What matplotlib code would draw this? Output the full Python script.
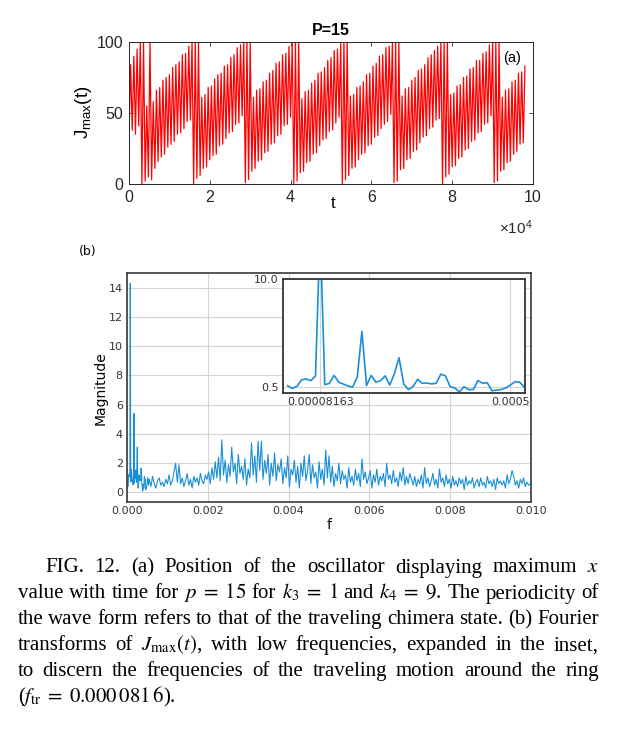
import numpy as np
import matplotlib

matplotlib.use("Agg")
import matplotlib.pyplot as plt

plt.rcParams["mathtext.fontset"] = "custom"
plt.rcParams["mathtext.rm"] = "Liberation Sans"
plt.rcParams["mathtext.it"] = "Liberation Sans:italic"

t_step = 400
j_max = [
    34, 84, 38, 90, 35, 95, 41, 100,
    0, 100, 2, 55, 5, 100, 3, 58,
    11, 66, 16, 68, 19, 73, 21, 75, 26, 77, 28, 82, 30, 84, 35, 86, 36, 91, 39, 92, 44, 97, 45, 100,
    0, 100, 4, 100,
    6, 61, 11, 63, 12, 68, 17, 69, 20, 74, 21, 77, 27, 78, 28, 83, 32, 84, 36, 89, 37, 91, 42, 96, 43, 98, 48, 100,
    1, 100, 3, 100,
    9, 61, 11, 66, 16, 67, 17, 72, 22, 73, 23, 78, 28, 80, 29, 85, 34, 86, 35, 91, 41, 92, 42, 97, 47, 99,
    0, 100, 2, 100,
    8, 60, 9, 65, 15, 66, 16, 71, 21, 73, 22, 78, 27, 79, 31, 82, 32, 87, 37, 89, 38, 94, 43, 95, 47, 99,
    0, 100, 3, 100,
    6, 62, 11, 63, 12, 68, 17, 69, 21, 72, 22, 77, 27, 78, 28, 83, 33, 85, 34, 90, 39, 91, 42, 96, 44, 97, 49,
    100, 1, 100, 2, 100,
    10, 62, 11, 67, 17, 68, 18, 73, 23, 75, 24, 80, 29, 81, 33, 84, 34, 89, 39, 91, 40, 94, 45, 97, 46,
    100, 0, 100, 5, 100,
    7, 63, 12, 64, 13, 69, 18, 70, 19, 75, 24, 76, 25, 81, 30, 82, 31, 87, 36, 87, 37, 92, 42, 93, 43, 98, 48,
    100, 1, 100, 2, 100,
    9, 61, 10, 66, 15, 67, 16, 72, 21, 73, 23, 78, 28, 79, 29, 83,
]

# (b) Spektrum: df = 1/98000, Inset k = 1..52, danach jeder 4. Bin ab k = 54
df = 1.0 / 98000
mag_low = [
    0.64, 0.40, 0.58, 1.15, 1.23, 1.08, 1.5, 14.3, 0.72, 0.85,
    1.55, 0.95, 0.78, 0.62, 0.52, 1.4, 5.4, 0.65, 1.55, 0.95,
    1.08, 1.5, 0.7, 1.7, 3.1, 0.8, 0.3, 0.55, 1.2, 0.85,
    0.88, 0.8, 0.85, 1.65, 1.5, 0.55, 0.45, 0.1, 0.55, 0.3,
    0.3, 1.1, 0.85, 0.9, 0.2, 0.25, 0.3, 0.45, 0.7, 1.0,
    0.95, 0.5,
]
mag_high = [
    0.9, 0.4, 1.1, 0.6, 0.3, 0.8, 1.0, 0.5, 0.7, 0.4, 0.9, 0.6, 1.2, 0.5, 0.8, 1.4, 2.0, 0.7,
    1.9, 0.6, 1.0, 0.4, 0.8, 1.3, 0.5, 0.9, 0.3, 1.1, 0.7, 1.0, 0.5, 1.3, 0.8, 0.6, 1.2, 0.9,
    1.4, 0.6, 1.7, 0.9, 2.1, 1.0, 2.4, 0.8, 3.6, 1.2, 2.2, 0.7, 1.9, 1.1, 3.1, 1.4, 2.0, 0.6,
    2.6, 1.3, 1.8, 0.9, 2.3, 0.5, 1.6, 1.0, 3.4, 1.2, 2.5, 0.7, 3.5, 1.5, 3.5, 0.9, 2.2, 1.3,
    2.6, 0.5, 2.0, 1.1, 2.7, 0.8, 1.9, 1.4, 2.3, 0.6, 1.7, 1.0, 2.5, 0.4, 1.6, 1.2, 2.2, 0.7,
    1.8, 0.3, 2.0, 1.1, 2.5, 0.8, 1.5, 2.6, 0.6, 1.9, 1.0, 1.4, 0.3, 2.1, 0.9, 1.6, 0.5, 2.9,
    1.0, 2.5, 0.7,
    1.8, 0.4, 1.3, 0.8, 2.0, 0.6, 1.5, 0.9, 1.2, 0.3, 1.7, 0.7, 1.1, 0.5, 1.6, 0.8, 1.3, 0.4,
    2.3, 0.9, 1.4, 0.6, 1.0, 1.5, 0.3, 1.2, 0.7, 1.6, 0.5, 1.1, 0.8, 1.3, 0.4, 2.0, 0.9, 1.2,
    0.6, 1.5, 0.7, 1.0, 0.4, 1.4, 0.8, 1.7, 0.5, 1.1, 0.6, 1.3, 0.9, 0.5,
    1.1, 0.4, 0.9, 0.6, 1.2, 0.3, 1.7, 0.6, 1.0, 0.4, 0.8, 1.3, 0.5, 0.9, 0.3, 1.6, 0.7, 1.0,
    0.4, 1.2, 0.6, 0.9, 0.3, 1.1, 0.5, 0.8, 0.4, 1.0, 0.6, 0.9, 0.2, 1.1, 0.5, 0.8, 0.6, 1.0,
    0.3, 0.7, 0.9, 0.4, 1.0, 0.5, 0.7, 0.3, 1.1, 0.6, 0.8, 0.4, 0.9, 0.2, 1.0, 0.6, 0.8, 0.5,
    0.8, 0.3, 1.2, 0.6, 0.9, 1.5, 1.1, 0.5, 0.8, 0.3, 0.9, 0.6, 1.0, 0.4, 0.7, 0.5, 0.6,
]

caption_lines = [
    ["FIG.", "12.", "(a)", "Position", "of", "the", "oscillator", "displaying", "maximum", "$x$"],
    ["value", "with", "time", "for", r"$p\;=\;15$", "for", r"$k_3\;=\;1$", "and", r"$k_4\;=\;9$.",
     "The", "periodicity", "of"],
    ["the", "wave", "form", "refers", "to", "that", "of", "the", "traveling", "chimera", "state.",
     "(b)", "Fourier"],
    ["transforms", "of", r"$J_{\mathrm{max}}(t)$,", "with", "low", "frequencies,", "expanded", "in",
     "the", "inset,"],
    ["to", "discern", "the", "frequencies", "of", "the", "traveling", "motion", "around", "the", "ring"],
    [r"($f_{\mathrm{tr}}\;=\;0.000\,081\,6$)."],
]

W, H = 621, 730
fig = plt.figure(figsize=(W / 100, H / 100), dpi=100)


def box(l, t, r, b):
    return [l / W, 1 - b / H, (r - l) / W, (b - t) / H]


# ---------- (a) ----------
sans = "Liberation Sans"
ax = fig.add_axes(box(129, 42, 533, 184))
t = np.arange(len(j_max)) * t_step
ax.plot(t, j_max, color="#ff0000", linewidth=0.9)
ax.set_xlim(0, 1e5)
ax.set_ylim(0, 100)
ax.set_xticks(np.arange(0, 10.1e4, 2e4))
ax.set_xticklabels(["0", "2", "4", "6", "8", "10"])
ax.set_yticks([0, 50, 100])
ax.tick_params(direction="in", length=3, width=0.6, top=True, right=True,
               labelsize=11.5, colors="#262626", pad=4)
for lab in ax.get_xticklabels() + ax.get_yticklabels():
    lab.set_family(sans)
for s in ax.spines.values():
    s.set_color("#262626")
    s.set_linewidth(0.7)
ax.set_title("P=15", fontsize=11.5, fontweight="bold", family=sans, pad=5)
ax.text(0.97, 0.885, "(a)", transform=ax.transAxes, ha="right", va="center",
        fontsize=10.5, family=sans)
fig.text(333 / W, 1 - 204 / H, "t", ha="center", va="center", fontsize=12, family=sans)
fig.text(533 / W, 1 - 228 / H, r"$\times$10$^4$", ha="right", va="center", fontsize=11,
         family=sans, color="#262626", math_fontfamily="custom")
fig.text(84 / W, 1 - 112 / H, r"J$_{\mathrm{max}}$(t)", rotation=90, ha="center", va="center",
         fontsize=13.5, family=sans, math_fontfamily="custom")

# ---------- (b) ----------
f_low = np.arange(1, len(mag_low) + 1) * df
f_high = (54 + 4 * np.arange(len(mag_high))) * df
blue = "#1a8fd8"
grid_c = "#d4d4d4"

bx = fig.add_axes(box(127, 273, 531, 502))
bx.plot(np.concatenate([f_low, f_high]), mag_low + mag_high, color=blue, linewidth=0.8)
bx.set_xlim(0, 0.01)
bx.set_ylim(-0.65, 15)
bx.set_xticks(np.arange(0, 0.0101, 0.002))
bx.set_xticklabels([f"{v:.3f}" for v in np.arange(0, 0.0101, 0.002)])
bx.set_yticks(np.arange(0, 15, 2))
bx.grid(True, color=grid_c, linewidth=0.8)
bx.set_axisbelow(True)
bx.tick_params(length=0, labelsize=8, colors="#333333", pad=3)
for s in bx.spines.values():
    s.set_color("#3a3a3a")
    s.set_linewidth(1.2)
fig.text(329 / W, 1 - 525 / H, "f", ha="center", va="center", fontsize=10)
fig.text(101 / W, 1 - 388 / H, "Magnitude", rotation=90, ha="center", va="center", fontsize=10)
fig.text(88 / W, 1 - 251 / H, "(b)", ha="center", va="center", fontsize=9)

ix = fig.add_axes(box(283, 279, 525, 393))
ix.plot(f_low, mag_low, color=blue, linewidth=1.2)
ix.set_xlim(0, 0.000532)
ix.set_ylim(0, 10)
ix.set_xticks([0.00008163, 0.0005])
ix.set_xticklabels(["0.00008163", "0.0005"])
ix.set_yticks([0.5, 10.0])
ix.set_yticklabels(["0.5", "10.0"])
ix.grid(True, color=grid_c, linewidth=0.8)
ix.tick_params(length=0, labelsize=8, colors="#333333", pad=3)
for s in ix.spines.values():
    s.set_color("#333333")
    s.set_linewidth(1.3)

# ---------- Bildunterschrift (Blocksatz) ----------
renderer = fig.canvas.get_renderer()
x_left, x_right = 17.5, 599
baselines = [572.5, 598.5, 624.3, 650.2, 676, 702]
for n, (tokens, yb) in enumerate(zip(caption_lines, baselines)):
    x0 = 45 if n == 0 else x_left
    texts = [fig.text(0, 1 - yb / H, tok, fontsize=15, family="Liberation Serif",
                      va="baseline", math_fontfamily="stix") for tok in tokens]
    widths = [tx.get_window_extent(renderer).width for tx in texts]
    if len(tokens) > 1:
        gap = (x_right - x0 - sum(widths)) / (len(tokens) - 1)
    else:
        gap = 0
    x = x0
    for tx, w in zip(texts, widths):
        tx.set_x(x / W)
        x += w + gap

fig.savefig("out.png", dpi=100)
